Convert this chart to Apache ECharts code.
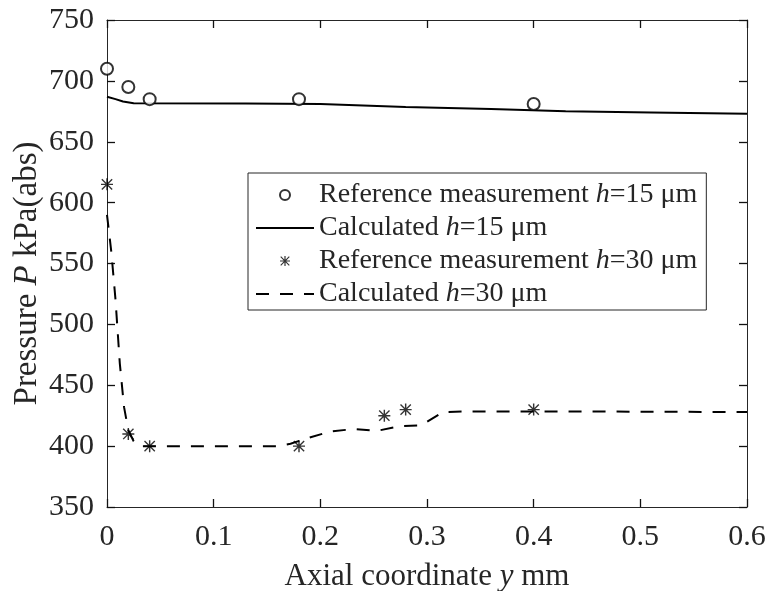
<!DOCTYPE html>
<html>
<head>
<meta charset="utf-8">
<script src="https://cdn.jsdelivr.net/npm/echarts@6/dist/echarts.min.js"></script>
<style>html,body{margin:0;padding:0;background:#fff;}#c{width:769px;height:591px;}</style>
</head>
<body>
<div id="c"></div>
<script>
// Data
var refH15 = [[0, 710], [0.02, 695], [0.04, 685], [0.18, 685], [0.4, 681]];
var calcH15 = [[0, 687], [0.008, 685], [0.015, 683], [0.025, 681.7], [0.13, 681.5], [0.2, 681],
  [0.28, 678.5], [0.36, 676.8], [0.43, 675], [0.51, 674], [0.6, 673]];
var refH30 = [[0, 615], [0.02, 410], [0.04, 400], [0.18, 400], [0.26, 425], [0.28, 430], [0.4, 430]];
var calcH30 = [[0, 590], [0.004, 560], [0.008, 520], [0.012, 468], [0.016, 432], [0.02, 413],
  [0.025, 404], [0.03, 400], [0.16, 400], [0.172, 402], [0.19, 407], [0.209, 412], [0.231, 414],
  [0.253, 412.5], [0.275, 416.5], [0.293, 417], [0.3, 420], [0.315, 428], [0.337, 428.5],
  [0.4, 428.5], [0.5, 428.3], [0.6, 428]];
var seriesNames = ['Reference measurement h=15 μm', 'Calculated h=15 μm',
  'Reference measurement h=30 μm', 'Calculated h=30 μm'];
var xRange = [0, 0.6, 0.1];
var yRange = [350, 750, 50];

var FONT = "'Liberation Serif','Times New Roman',serif";
var INK = '#262626';
var STAR = 'path://M44,0L56,0L56,100L44,100Z M0,44L100,44L100,56L0,56Z M3,11L11,3L97,89L89,97Z M89,3L97,11L11,97L3,89Z';

var chart = echarts.init(document.getElementById('c'), null, {renderer: 'canvas'});

function makeAxis(extra, range, showLabels) {
  var a = {
    type: 'value', min: range[0], max: range[1], interval: range[2],
    axisLine: {show: true, onZero: false, lineStyle: {color: INK, width: 1}},
    axisTick: {show: true, inside: true, length: 8, lineStyle: {color: '#111', width: 1.3}},
    splitLine: {show: false},
    axisLabel: {show: showLabels, color: INK, fontFamily: FONT, fontSize: 30}
  };
  for (var k in extra) a[k] = extra[k];
  return a;
}

function richName(size) {
  return {color: INK, fontFamily: FONT, fontSize: size,
    rich: {n: {color: INK, fontFamily: FONT, fontSize: size},
           i: {color: INK, fontFamily: FONT, fontSize: size, fontStyle: 'italic'}}};
}

var x0 = makeAxis({position: 'bottom', name: '{n|Axial coordinate }{i|y}{n| mm}', nameLocation: 'middle',
  nameGap: 54, nameMoveOverlap: false, nameTextStyle: richName(31)}, xRange, true);
x0.axisLabel.margin = 15;
x0.axisLabel.formatter = function (v) { return String(+v.toFixed(1)); };
var x1 = makeAxis({position: 'top'}, xRange, false);

var yNameStyle = richName(33);
yNameStyle.padding = [0, 20, 0, 0];
var y0 = makeAxis({position: 'left', name: '{n|Pressure }{i|P}{n| kPa(abs)}', nameLocation: 'middle',
  nameGap: 63, nameMoveOverlap: false, nameRotate: 90, nameTextStyle: yNameStyle}, yRange, true);
y0.axisLabel.margin = 13;
var y1 = makeAxis({position: 'right'}, yRange, false);

function legendFmt(name) {
  var m = name.match(/^(.*?)h(=.*)$/);
  return '{n|' + m[1] + '}{i|h}{n|' + m[2] + '}';
}

var hideSym = {color: 'rgba(0,0,0,0)', borderColor: 'rgba(0,0,0,0)', borderWidth: 0, opacity: 0};

chart.setOption({
  animation: false,
  backgroundColor: '#fff',
  grid: {left: 107, right: 22, top: 20, bottom: 84, containLabel: false, outerBoundsMode: 'none'},
  xAxis: [x0, x1],
  yAxis: [y0, y1],
  legend: {
    orient: 'vertical', left: 248, top: 173,
    padding: [6, 9, 0, 7], itemGap: 1, itemWidth: 58, itemHeight: 10,
    backgroundColor: '#fff', borderColor: INK, borderWidth: 1,
    data: [
      {name: seriesNames[0]},
      {name: seriesNames[1], itemStyle: hideSym},
      {name: seriesNames[2]},
      {name: seriesNames[3], itemStyle: hideSym}
    ],
    formatter: legendFmt,
    textStyle: {color: INK, fontFamily: FONT, fontSize: 28, lineHeight: 32,
      rich: {n: {color: INK, fontFamily: FONT, fontSize: 28, lineHeight: 32},
             i: {color: INK, fontFamily: FONT, fontSize: 28, lineHeight: 32, fontStyle: 'italic'}}}
  },
  series: [
    {name: seriesNames[1], type: 'line', data: calcH15, xAxisIndex: 0, yAxisIndex: 0,
      symbol: 'none', lineStyle: {color: '#000', width: 2}, itemStyle: {color: '#000'}, z: 2},
    {name: seriesNames[3], type: 'line', data: calcH30, xAxisIndex: 0, yAxisIndex: 0,
      symbol: 'none', lineStyle: {color: '#000', width: 2, type: [13, 11]}, itemStyle: {color: '#000'}, z: 2},
    {name: seriesNames[0], type: 'scatter', data: refH15, xAxisIndex: 0, yAxisIndex: 0,
      symbol: 'emptyCircle', symbolSize: 12, itemStyle: {color: '#000', borderColor: '#000', borderWidth: 1.3}, z: 3},
    {name: seriesNames[2], type: 'scatter', data: refH30, xAxisIndex: 0, yAxisIndex: 0,
      symbol: STAR, symbolSize: 12, symbolKeepAspect: true, itemStyle: {color: '#000'}, z: 3}
  ]
});
</script>
</body>
</html>
